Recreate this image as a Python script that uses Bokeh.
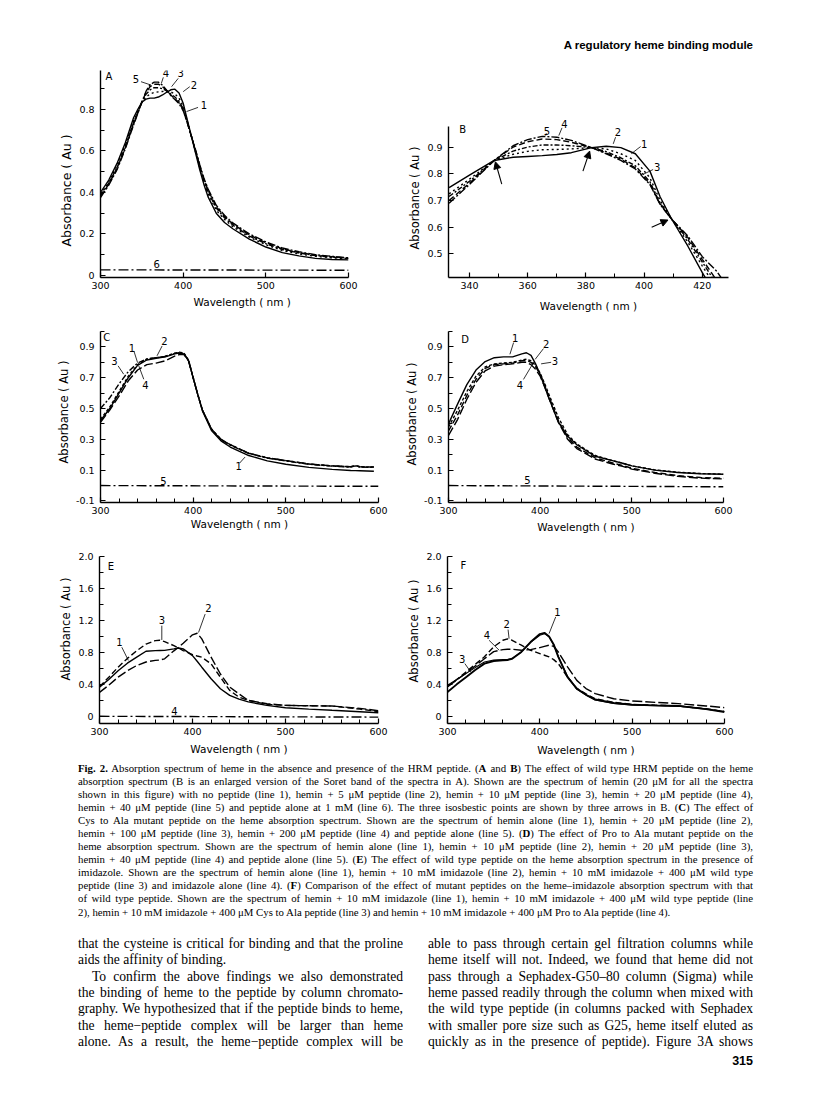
from bokeh.plotting import figure
from bokeh.layouts import column, row
from bokeh.models import (Range1d, FixedTicker, Div, Arrow, NormalHead, ColumnDataSource,
                          LabelSet, Title)
from bokeh.embed import file_html
from bokeh.resources import INLINE
from bokeh.core.properties import value

# ---------------- data ----------------
# Panel A : wild type peptide titration (300-600 nm)
A_NM = [300, 310, 320, 330, 340, 345, 350, 355, 360, 365, 370, 375, 380, 385, 390, 395, 400,
        405, 410, 415, 420, 425, 430, 440, 450, 460, 480, 500, 520, 540, 560, 580, 600]
A1 = [0.40, 0.46, 0.54, 0.64, 0.76, 0.80, 0.835, 0.85, 0.855, 0.855, 0.86, 0.87, 0.883, 0.895, 0.898, 0.88, 0.83,
      0.75, 0.67, 0.59, 0.51, 0.44, 0.38, 0.30, 0.255, 0.225, 0.175, 0.137, 0.11, 0.094, 0.082, 0.077, 0.075]
A2 = [0.39, 0.45, 0.53, 0.63, 0.745, 0.79, 0.835, 0.86, 0.875, 0.882, 0.885, 0.887, 0.888, 0.885, 0.875, 0.855, 0.815,
      0.745, 0.67, 0.595, 0.52, 0.45, 0.395, 0.315, 0.27, 0.235, 0.185, 0.148, 0.12, 0.104, 0.092, 0.085, 0.08]
A3 = [0.385, 0.445, 0.52, 0.62, 0.737, 0.785, 0.835, 0.873, 0.895, 0.905, 0.905, 0.90, 0.89, 0.875, 0.86, 0.84, 0.805,
      0.74, 0.67, 0.60, 0.525, 0.46, 0.405, 0.325, 0.278, 0.243, 0.19, 0.153, 0.125, 0.108, 0.096, 0.088, 0.082]
A4 = [0.38, 0.44, 0.515, 0.615, 0.73, 0.782, 0.835, 0.882, 0.91, 0.922, 0.922, 0.91, 0.892, 0.87, 0.852, 0.832, 0.798,
      0.737, 0.67, 0.603, 0.53, 0.465, 0.412, 0.332, 0.284, 0.248, 0.195, 0.158, 0.128, 0.11, 0.098, 0.09, 0.083]
A5 = [0.375, 0.435, 0.51, 0.61, 0.725, 0.78, 0.835, 0.887, 0.92, 0.932, 0.932, 0.917, 0.893, 0.868, 0.848, 0.828, 0.795,
      0.735, 0.67, 0.605, 0.535, 0.47, 0.418, 0.338, 0.29, 0.253, 0.20, 0.162, 0.132, 0.114, 0.10, 0.092, 0.085]
A6_NM = [300, 600]
A6 = [0.027, 0.025]

# Panel B : Soret band enlarged
B_NM = [333, 340, 348.5, 355, 360, 365, 370, 375, 382, 387, 392, 397, 402, 405.5, 409.5, 415, 420, 425, 430]
B1 = [0.748, 0.795, 0.85, 0.862, 0.865, 0.868, 0.872, 0.879, 0.898, 0.903, 0.898, 0.875, 0.81, 0.714, 0.63, 0.53, 0.43, 0.34, 0.25]
B2 = [0.725, 0.78, 0.85, 0.873, 0.884, 0.89, 0.891, 0.893, 0.898, 0.893, 0.875, 0.85, 0.785, 0.70, 0.63, 0.545, 0.455, 0.37, 0.28]
B3 = [0.715, 0.772, 0.85, 0.885, 0.90, 0.908, 0.908, 0.905, 0.898, 0.883, 0.86, 0.83, 0.77, 0.69, 0.63, 0.555, 0.47, 0.385, 0.30]
B4 = [0.70, 0.765, 0.85, 0.90, 0.92, 0.93, 0.928, 0.918, 0.898, 0.878, 0.855, 0.822, 0.763, 0.687, 0.63, 0.562, 0.48, 0.40, 0.31]
B5 = [0.69, 0.76, 0.85, 0.905, 0.928, 0.94, 0.937, 0.925, 0.898, 0.875, 0.85, 0.818, 0.76, 0.685, 0.63, 0.568, 0.49, 0.435, 0.355]

# Panel C : Cys to Ala mutant
C_NM = [300, 310, 320, 330, 340, 350, 360, 370, 380, 385, 390, 395, 400, 405, 410, 420, 430, 440,
        460, 480, 500, 525, 550, 570, 575, 580, 595]
C1 = [0.42, 0.50, 0.60, 0.70, 0.78, 0.815, 0.826, 0.835, 0.855, 0.86, 0.855, 0.81, 0.70, 0.59, 0.485, 0.355, 0.29, 0.25,
      0.195, 0.16, 0.138, 0.118, 0.105, 0.098, 0.097, 0.096, 0.093]
C2 = [0.43, 0.51, 0.61, 0.71, 0.785, 0.82, 0.83, 0.84, 0.86, 0.865, 0.86, 0.815, 0.70, 0.59, 0.49, 0.365, 0.30, 0.265,
      0.21, 0.18, 0.162, 0.14, 0.128, 0.122, 0.13, 0.122, 0.12]
C3 = [0.50, 0.57, 0.66, 0.74, 0.795, 0.822, 0.83, 0.838, 0.858, 0.862, 0.858, 0.812, 0.70, 0.59, 0.49, 0.362, 0.298, 0.262,
      0.208, 0.178, 0.16, 0.138, 0.126, 0.12, 0.128, 0.12, 0.118]
C4 = [0.41, 0.49, 0.58, 0.68, 0.75, 0.785, 0.795, 0.81, 0.84, 0.85, 0.85, 0.81, 0.70, 0.59, 0.49, 0.365, 0.30, 0.265,
      0.21, 0.18, 0.162, 0.14, 0.128, 0.122, 0.13, 0.122, 0.12]
C5_NM = [300, 600]
C5 = [0.0, -0.005]

# Panel D : Pro to Ala mutant
D_NM = [300, 310, 320, 330, 340, 350, 360, 370, 380, 385, 390, 395, 400, 405, 410, 420, 430, 440,
        460, 480, 490, 500, 525, 550, 575, 600]
D1 = [0.40, 0.53, 0.655, 0.75, 0.805, 0.83, 0.835, 0.835, 0.855, 0.862, 0.845, 0.79, 0.72, 0.64, 0.56, 0.41, 0.32, 0.265,
      0.19, 0.16, 0.145, 0.128, 0.10, 0.085, 0.077, 0.073]
D2 = [0.38, 0.49, 0.61, 0.71, 0.77, 0.79, 0.795, 0.80, 0.815, 0.82, 0.81, 0.78, 0.73, 0.66, 0.585, 0.44, 0.33, 0.27,
      0.195, 0.16, 0.145, 0.128, 0.102, 0.087, 0.078, 0.074]
D3 = [0.355, 0.46, 0.585, 0.69, 0.76, 0.785, 0.79, 0.795, 0.81, 0.812, 0.80, 0.77, 0.725, 0.65, 0.57, 0.42, 0.31, 0.25,
      0.18, 0.145, 0.13, 0.112, 0.085, 0.065, 0.052, 0.047]
D4 = [0.325, 0.43, 0.56, 0.67, 0.745, 0.775, 0.785, 0.79, 0.80, 0.80, 0.785, 0.755, 0.71, 0.64, 0.56, 0.41, 0.30, 0.24,
      0.172, 0.138, 0.125, 0.107, 0.08, 0.06, 0.048, 0.043]
D5_NM = [300, 600]
D5 = [0.0, -0.008]

# Panel E : wild type peptide with imidazole
E_NM = [300, 310, 320, 330, 340, 350, 360, 365, 370, 380, 385, 390, 400, 405, 410, 420, 430, 440,
        450, 460, 480, 500, 525, 550, 580, 600]
E1 = [0.366, 0.46, 0.57, 0.665, 0.74, 0.815, 0.823, 0.824, 0.825, 0.845, 0.856, 0.845, 0.76, 0.69, 0.615, 0.47, 0.345, 0.262,
      0.215, 0.18, 0.137, 0.108, 0.09, 0.075, 0.058, 0.045]
E2 = [0.30, 0.39, 0.49, 0.57, 0.636, 0.68, 0.70, 0.705, 0.72, 0.82, 0.865, 0.915, 1.02, 1.04, 0.97, 0.74, 0.53, 0.366,
      0.28, 0.20, 0.158, 0.137, 0.132, 0.129, 0.10, 0.07]
E3 = [0.37, 0.49, 0.615, 0.725, 0.82, 0.905, 0.948, 0.952, 0.935, 0.885, 0.855, 0.823, 0.773, 0.755, 0.74, 0.657, 0.49, 0.324,
      0.24, 0.20, 0.15, 0.137, 0.132, 0.129, 0.09, 0.06]
E4_NM = [300, 600]
E4 = [0.0, -0.01]

# Panel F : mutant peptides with imidazole
F_NM = [300, 310, 320, 330, 340, 350, 360, 365, 370, 380, 390, 400, 405, 410, 415, 420, 430, 440,
        450, 460, 480, 500, 525, 550, 580, 600]
F1 = [0.305, 0.40, 0.49, 0.58, 0.66, 0.693, 0.70, 0.705, 0.72, 0.806, 0.93, 1.03, 1.045, 1.0, 0.90, 0.745, 0.49, 0.347,
      0.27, 0.21, 0.167, 0.146, 0.137, 0.13, 0.09, 0.054]
F2 = [0.37, 0.46, 0.555, 0.65, 0.745, 0.87, 0.952, 0.97, 0.952, 0.89, 0.827, 0.785, 0.765, 0.745, 0.71, 0.66, 0.49, 0.35,
      0.28, 0.22, 0.175, 0.15, 0.14, 0.13, 0.095, 0.06]
F3 = [0.39, 0.46, 0.535, 0.61, 0.68, 0.705, 0.71, 0.712, 0.725, 0.806, 0.925, 1.015, 1.035, 0.995, 0.895, 0.75, 0.50, 0.34,
      0.265, 0.205, 0.16, 0.14, 0.133, 0.128, 0.09, 0.06]
F4 = [0.37, 0.455, 0.54, 0.63, 0.72, 0.81, 0.835, 0.84, 0.84, 0.827, 0.835, 0.86, 0.875, 0.89, 0.877, 0.806, 0.62, 0.45,
      0.347, 0.284, 0.22, 0.192, 0.175, 0.159, 0.13, 0.109]

# tick values and labels
X_TICKS = [300, 400, 500, 600]
X_TICK_LABELS = ["300", "400", "500", "600"]
A_Y_TICKS = [0.0, 0.2, 0.4, 0.6, 0.8]
A_Y_TICK_LABELS = ["0", "0.2", "0.4", "0.6", "0.8"]
B_X_TICKS = [340, 360, 380, 400, 420]
B_X_TICK_LABELS = ["340", "360", "380", "400", "420"]
B_Y_TICKS = [0.5, 0.6, 0.7, 0.8, 0.9]
B_Y_TICK_LABELS = ["0.5", "0.6", "0.7", "0.8", "0.9"]
CD_Y_TICKS = [-0.1, 0.1, 0.3, 0.5, 0.7, 0.9]
CD_Y_TICK_LABELS = ["-0.1", "0.1", "0.3", "0.5", "0.7", "0.9"]
EF_Y_TICKS = [0.0, 0.4, 0.8, 1.2, 1.6, 2.0]
EF_Y_TICK_LABELS = ["0", "0.4", "0.8", "1.2", "1.6", "2.0"]

HEADER = "A regulatory heme binding module"
X_TITLE = "Wavelength ( nm )"
Y_TITLE = "Absorbance ( Au )"

CAPTION_LINES = [
    "<b>Fig. 2.</b> Absorption spectrum of heme in the absence and presence of the HRM peptide. (<b>A</b> and <b>B</b>) The effect of wild type HRM peptide on the heme",
    "absorption spectrum (B is an enlarged version of the Soret band of the spectra in A). Shown are the spectrum of hemin (20 μM for all the spectra",
    "shown in this figure) with no peptide (line 1), hemin + 5 μM peptide (line 2), hemin + 10 μM peptide (line 3), hemin + 20 μM peptide (line 4),",
    "hemin + 40 μM peptide (line 5) and peptide alone at 1 mM (line 6). The three isosbestic points are shown by three arrows in B. (<b>C</b>) The effect of",
    "Cys to Ala mutant peptide on the heme absorption spectrum. Shown are the spectrum of hemin alone (line 1), hemin + 20 μM peptide (line 2),",
    "hemin + 100 μM peptide (line 3), hemin + 200 μM peptide (line 4) and peptide alone (line 5). (<b>D</b>) The effect of Pro to Ala mutant peptide on the",
    "heme absorption spectrum. Shown are the spectrum of hemin alone (line 1), hemin + 10 μM peptide (line 2), hemin + 20 μM peptide (line 3),",
    "hemin + 40 μM peptide (line 4) and peptide alone (line 5). (<b>E</b>) The effect of wild type peptide on the heme absorption spectrum in the presence of",
    "imidazole. Shown are the spectrum of hemin alone (line 1), hemin + 10 mM imidazole (line 2), hemin + 10 mM imidazole + 400 μM wild type",
    "peptide (line 3) and imidazole alone (line 4). (<b>F</b>) Comparison of the effect of mutant peptides on the heme–imidazole absorption spectrum with that",
    "of wild type peptide. Shown are the spectrum of hemin + 10 mM imidazole (line 1), hemin + 10 mM imidazole + 400 μM wild type peptide (line",
    "2), hemin + 10 mM imidazole + 400 μM Cys to Ala peptide (line 3) and hemin + 10 mM imidazole + 400 μM Pro to Ala peptide (line 4).",
]
BODY_LEFT = [
    "that the cysteine is critical for binding and that the proline",
    "aids the affinity of binding.",
    "To confirm the above findings we also demonstrated",
    "the binding of heme to the peptide by column chromato-",
    "graphy. We hypothesized that if the peptide binds to heme,",
    "the heme−peptide complex will be larger than heme",
    "alone. As a result, the heme−peptide complex will be",
]
BODY_RIGHT = [
    "able to pass through certain gel filtration columns while",
    "heme itself will not. Indeed, we found that heme did not",
    "pass through a Sephadex-G50–80 column (Sigma) while",
    "heme passed readily through the column when mixed with",
    "the wild type peptide (in columns packed with Sephadex",
    "with smaller pore size such as G25, heme itself eluted as",
    "quickly as in the presence of peptide). Figure 3A shows",
]
PAGE_NO = "315"

SANS = "DejaVu Sans"


def panel(width, height, lb, rb, tb, bb, xr, yr, xt, xtl, xminor, yt, ytl, yminor,
          ytitle_offset, ytitle_standoff=6, title_size="11.5px", xlab_stand=2, ybounds="auto",
          xtitle_offset=None):
    p = figure(width=width, height=height, x_range=Range1d(*xr), y_range=Range1d(*yr),
               output_backend="svg", toolbar_location=None,
               min_border_left=lb, min_border_right=rb, min_border_top=tb, min_border_bottom=bb)
    p.outline_line_color = None
    p.xgrid.visible = False
    p.ygrid.visible = False
    p.background_fill_color = "white"
    p.border_fill_color = "white"
    p.xaxis.ticker = FixedTicker(ticks=xt, minor_ticks=xminor)
    p.yaxis.ticker = FixedTicker(ticks=yt, minor_ticks=yminor)
    p.xaxis.major_label_overrides = dict(zip(xt, xtl))
    p.yaxis.major_label_overrides = dict(zip(yt, ytl))
    p.yaxis.bounds = ybounds
    for ax in (p.xaxis, p.yaxis):
        ax.axis_line_width = 1.4
        ax.axis_line_color = "black"
        ax.major_tick_line_color = "black"
        ax.minor_tick_line_color = "black"
        ax.major_tick_line_width = 1.2
        ax.minor_tick_line_width = 1.0
        ax.major_tick_in = 5
        ax.major_tick_out = 0
        ax.minor_tick_in = 4
        ax.minor_tick_out = 0
        ax.major_label_text_font = SANS
        ax.major_label_text_font_size = "9.5px"
        ax.major_label_text_color = "black"
    p.yaxis.major_label_standoff = 6
    p.xaxis.major_label_standoff = 4
    if xtitle_offset is None:
        p.xaxis.axis_label = X_TITLE
        p.xaxis.axis_label_text_font = SANS
        p.xaxis.axis_label_text_font_size = "10.5px"
        p.xaxis.axis_label_text_font_style = "normal"
        p.xaxis.axis_label_text_color = "black"
        p.xaxis.axis_label_standoff = xlab_stand
    else:
        p.add_layout(Title(text=X_TITLE, align="left", offset=xtitle_offset, standoff=xlab_stand,
                           text_font=SANS, text_font_size="10.5px", text_font_style="normal",
                           text_color="black"), "below")
    # y title, placed along the axis by its distance from the frame bottom
    p.add_layout(Title(text=Y_TITLE, align="left", offset=ytitle_offset, standoff=ytitle_standoff,
                       text_font=SANS, text_font_size=title_size, text_font_style="normal",
                       text_color="black"), "left")
    return p


def curve(p, x, y, dash="solid", w=1.4):
    p.line(x, y, line_color="black", line_width=w, line_dash=dash)


def labels(p, xs, ys, texts, align="center", size="10px"):
    src = ColumnDataSource(dict(x=xs, y=ys, t=texts))
    p.add_layout(LabelSet(x="x", y="y", text="t", source=src, text_font=value(SANS),
                          text_font_size=value(size), text_align=align, text_baseline="middle",
                          text_color="black"))


def leaders(p, x0, y0, x1, y1):
    p.segment(x0=x0, y0=y0, x1=x1, y1=y1, line_color="black", line_width=0.8)


X_MINOR20 = [320, 340, 360, 380, 420, 440, 460, 480, 520, 540, 560, 580]

# ---------- panel A ----------
pa = panel(392, 260, 92, 52, 10, 43, (300, 600), (-0.01, 0.988), X_TICKS, X_TICK_LABELS, [],
           A_Y_TICKS, A_Y_TICK_LABELS, [0.1, 0.3, 0.5, 0.7, 0.9],
           ytitle_offset=31, title_size="12.5px", xlab_stand=5, xtitle_offset=93)
curve(pa, A_NM, A1)
curve(pa, A_NM, A2, "2 3")
curve(pa, A_NM, A3, "5 2 2 2")
curve(pa, A_NM, A4, "6 3")
curve(pa, A_NM, A5, "8 2 2 2")
curve(pa, A6_NM, A6, "10 3 2 3")
labels(pa, [306], [0.96], ["A"], align="left")
labels(pa, [343, 379, 397, 413, 425, 368], [0.945, 0.977, 0.974, 0.92, 0.82, 0.056],
       ["5", "4", "3", "2", "1", "6"])
leaders(pa, [349, 376, 394, 408, 418], [0.934, 0.955, 0.95, 0.91, 0.81],
        [361, 373.6, 386, 400, 404], [0.918, 0.926, 0.91, 0.886, 0.79])

# ---------- panel B ----------
pb = panel(408, 260, 48, 80, 10, 43, (332.8, 429), (0.412, 1.1865), B_X_TICKS, B_X_TICK_LABELS,
           [350, 370, 390, 410], B_Y_TICKS, B_Y_TICK_LABELS, [],
           ytitle_offset=28, xlab_stand=8, ybounds=(0.412, 0.977))
curve(pb, B_NM, B1)
curve(pb, B_NM, B2, "2 3")
curve(pb, B_NM, B3, "5 2 2 2")
curve(pb, B_NM, B4, "6 3")
curve(pb, B_NM, B5, "8 2 2 2")
labels(pb, [336.5], [0.964], ["B"], align="left")
labels(pb, [366.6, 372.6, 391, 400, 404.5], [0.962, 0.987, 0.956, 0.912, 0.826], ["5", "4", "2", "1", "3"])
leaders(pb, [366.4, 371.8, 390.2, 398.8, 403.1], [0.952, 0.972, 0.937, 0.902, 0.816],
        [366.2, 370.7, 389.4, 395.6, 399.7], [0.943, 0.943, 0.912, 0.875, 0.798])
arrows = ColumnDataSource(dict(x0=[351.1, 379.0, 402.6], y0=[0.761, 0.81, 0.60],
                               x1=[348.9, 381.3, 408.2], y1=[0.845, 0.885, 0.627]))
pb.add_layout(Arrow(end=NormalHead(size=7, fill_color="black", line_color="black", line_width=1),
                    x_start="x0", y_start="y0", x_end="x1", y_end="y1", source=arrows,
                    line_color="black", line_width=1.1))

# ---------- panel C ----------
pc = panel(392, 228, 92, 22, 11, 46, (300, 600), (-0.11, 1.0), X_TICKS, X_TICK_LABELS, X_MINOR20,
           CD_Y_TICKS, CD_Y_TICK_LABELS, [0.0, 0.2, 0.4, 0.6, 0.8, 1.0],
           ytitle_offset=39, ytitle_standoff=3, xlab_stand=1)
curve(pc, C_NM, C1)
curve(pc, C_NM, C2, "3 2")
curve(pc, C_NM, C3, "6 2 2 2")
curve(pc, C_NM, C4, "9 3")
curve(pc, C5_NM, C5, "10 3 2 3")
labels(pc, [303], [0.96], ["C"], align="left")
labels(pc, [315, 334, 369, 348.5, 449, 368], [0.81, 0.896, 0.939, 0.654, 0.128, 0.031],
       ["3", "1", "2", "4", "1", "5"])
leaders(pc, [319, 336, 366.5, 346.7, 450], [0.777, 0.874, 0.906, 0.69, 0.145],
        [325, 340, 361, 341.3, 456], [0.723, 0.798, 0.842, 0.777, 0.185])

# ---------- panel D ----------
pd_ = panel(408, 228, 48, 85, 11, 46, (300, 600), (-0.11, 1.0), X_TICKS, X_TICK_LABELS, X_MINOR20,
            CD_Y_TICKS, CD_Y_TICK_LABELS, [0.0, 0.2, 0.4, 0.6, 0.8, 1.0],
            ytitle_offset=37, ytitle_standoff=3, xlab_stand=4)
curve(pd_, D_NM, D1)
curve(pd_, D_NM, D2, "3 2")
curve(pd_, D_NM, D3, "6 3")
curve(pd_, D_NM, D4, "9 3")
curve(pd_, D5_NM, D5, "10 3 2 3")
labels(pd_, [314], [0.95], ["D"], align="left")
labels(pd_, [372.7, 406.5, 416, 378, 386], [0.961, 0.917, 0.808, 0.65, 0.035], ["1", "2", "3", "4", "5"])
leaders(pd_, [371, 403.6, 412, 381.8], [0.928, 0.889, 0.8, 0.689],
        [367, 394.5, 401, 392.7], [0.852, 0.819, 0.79, 0.798])

# ---------- panel E ----------
pe = panel(392, 212, 91, 22, 8, 37, (300, 600), (-0.09, 2.001), X_TICKS, X_TICK_LABELS, X_MINOR20,
           EF_Y_TICKS, EF_Y_TICK_LABELS, [0.2, 0.6, 1.0, 1.4, 1.8],
           ytitle_offset=43, xlab_stand=5)
curve(pe, E_NM, E1)
curve(pe, E_NM, E2, "9 3")
curve(pe, E_NM, E3, "6 3")
curve(pe, E4_NM, E4, "10 3 2 3")
labels(pe, [309], [1.88], ["E"], align="left")
labels(pe, [417, 367, 321.5, 380.6], [1.35, 1.2, 0.927, 0.062], ["2", "3", "1", "4"])
leaders(pe, [413.6, 367, 324], [1.28, 1.135, 0.865], [406.5, 367, 331], [1.05, 0.956, 0.70])

# ---------- panel F ----------
pf = panel(408, 212, 47, 84, 8, 37, (300, 600), (-0.09, 2.001), X_TICKS, X_TICK_LABELS, X_MINOR20,
           EF_Y_TICKS, EF_Y_TICK_LABELS, [0.2, 0.6, 1.0, 1.4, 1.8],
           ytitle_offset=41, xlab_stand=6)
curve(pf, F_NM, F1, "solid", 1.9)
curve(pf, F_NM, F2, "6 3")
curve(pf, F_NM, F3, "solid", 1.1)
curve(pf, F_NM, F4, "10 3")
labels(pf, [314], [1.89], ["F"], align="left")
labels(pf, [419, 364, 342.6, 316], [1.31, 1.15, 1.015, 0.714], ["1", "2", "4", "3"])
leaders(pf, [417.2, 365.6, 345, 318.8], [1.245, 1.086, 0.952, 0.66],
        [410, 366.7, 356, 325.2], [1.036, 0.973, 0.827, 0.555])

# ---------------- text blocks ----------------
SERIF = "'Liberation Serif', 'Times New Roman', serif"

header = Div(text=(
    "<div style=\"position:relative;width:800px;height:52px;\">"
    "<div style=\"position:absolute;right:55px;top:29px;font-family:'Liberation Sans',Arial,sans-serif;"
    "font-weight:bold;font-size:11.5px;line-height:16px;color:#000;white-space:nowrap;\">"
    + HEADER + "</div></div>"), width=800, height=52, margin=0)


def text_lines(lines, width, lh, size, last_left=(), indent=None):
    out = []
    for i, t in enumerate(lines):
        just = i not in last_left
        st = ("height:%spx;line-height:%spx;font-size:%spx;white-space:nowrap;overflow:visible;" % (lh, lh, size))
        if just:
            st += "text-align:justify;text-align-last:justify;"
        else:
            st += "text-align:left;"
        if indent is not None and i == indent:
            st += "padding-left:14px;"
        out.append("<div style=\"%s\">%s</div>" % (st, t))
    return ("<div style=\"width:%dpx;font-family:%s;color:#000;\">" % (width, SERIF)) + "".join(out) + "</div>"


caption = Div(text=(
    "<div style=\"position:relative;width:800px;height:162px;\">"
    "<div style=\"position:absolute;left:70px;top:1.5px;\">"
    + text_lines(CAPTION_LINES, 675, 13.1, 10.8, last_left=(11,)) + "</div></div>"),
    width=800, height=162, margin=0)

body = Div(text=(
    "<div style=\"position:relative;width:800px;height:150px;\">"
    "<div style=\"position:absolute;left:70px;top:13.8px;\">"
    + text_lines(BODY_LEFT, 325, 16.4, 13.6, last_left=(1,), indent=2) + "</div>"
    "<div style=\"position:absolute;left:420px;top:13.8px;\">"
    + text_lines(BODY_RIGHT, 325, 16.4, 13.6) + "</div>"
    "<div style=\"position:absolute;right:55px;top:131px;font-family:'Liberation Sans',Arial,sans-serif;"
    "font-weight:bold;font-size:12.5px;line-height:16px;color:#000;\">" + PAGE_NO + "</div>"
    "</div>"), width=800, height=150, margin=0)

layout = column(header, row(pa, pb), row(pc, pd_), row(pe, pf), caption, body, margin=(8, 0, 0, 8))

open("out.html", "w").write(file_html(layout, INLINE))
